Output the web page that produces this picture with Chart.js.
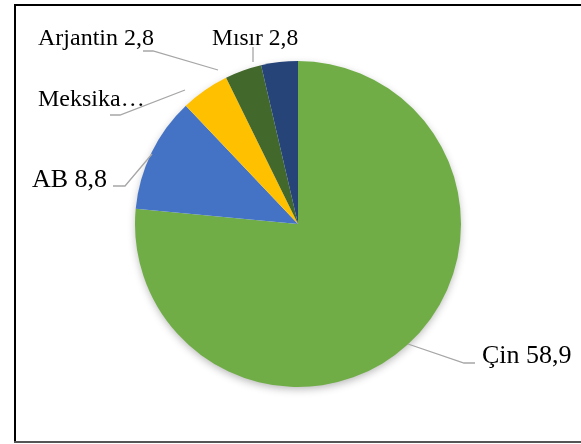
<!DOCTYPE html>
<html><head><meta charset="utf-8">
<script src="https://cdn.jsdelivr.net/npm/chart.js@4/dist/chart.umd.min.js"></script>
<style>html,body{margin:0;padding:0;background:#fff;}#wrap{width:581px;height:444px;position:relative;}</style>
</head><body><div id="wrap"><canvas id="c" width="581" height="444"></canvas></div>
<script>
const categories = ['Çin', 'AB', 'Meksika', 'Arjantin', 'Mısır'];
const values = [58.9, 8.8, 3.7, 2.8, 2.8];
const labelTexts = ['Çin 58,9', 'AB 8,8', 'Meksika…', 'Arjantin 2,8', 'Mısır 2,8'];
const colors = ['#70AD47', '#4472C4', '#FFC000', '#43682B', '#264478'];

// label layout (text baseline-left position, font size and leader line path)
const labelLayout = [
  {x: 482, y: 363, size: 26, line: [[475, 363], [464, 363], [408, 344]]},
  {x: 32, y: 187, size: 26, line: [[113, 186], [125, 186], [152, 154]]},
  {x: 38, y: 106, size: 24, line: [[110, 115], [120, 115], [185, 90]]},
  {x: 38, y: 45, size: 24, line: [[143, 51], [153, 51], [218, 70]]},
  {x: 212, y: 45, size: 23.5, line: [[253, 47], [253, 62]]}
];

const shadowPlugin = {
  id: 'shadow',
  beforeDatasetsDraw(chart) {
    const arc = chart.getDatasetMeta(0).data[0];
    if (!arc) return;
    const ctx = chart.ctx;
    ctx.save();
    ctx.shadowColor = 'rgba(0,0,0,0.3)';
    ctx.shadowBlur = 9;
    ctx.shadowOffsetY = 3;
    ctx.fillStyle = '#ffffff';
    ctx.beginPath();
    ctx.arc(arc.x, arc.y, arc.outerRadius - 1, 0, Math.PI * 2);
    ctx.fill();
    ctx.restore();
  }
};

const labelPlugin = {
  id: 'labels',
  afterDatasetsDraw(chart) {
    const ctx = chart.ctx;
    ctx.save();
    ctx.strokeStyle = '#A6A6A6';
    ctx.lineWidth = 1.3;
    labelLayout.forEach((l, i) => {
      ctx.beginPath();
      l.line.forEach((p, j) => j ? ctx.lineTo(p[0], p[1]) : ctx.moveTo(p[0], p[1]));
      ctx.stroke();
      ctx.fillStyle = '#000';
      ctx.font = l.size + 'px "Liberation Serif", "Times New Roman", serif';
      ctx.textBaseline = 'alphabetic';
      ctx.textAlign = 'left';
      ctx.fillText(labelTexts[i], l.x, l.y);
    });
    // frame
    ctx.strokeStyle = '#000';
    ctx.lineWidth = 2;
    ctx.beginPath();
    ctx.moveTo(15, 441);
    ctx.lineTo(15, 5);
    ctx.lineTo(581, 5);
    ctx.stroke();
    ctx.strokeStyle = '#555';
    ctx.beginPath();
    ctx.moveTo(14, 442);
    ctx.lineTo(581, 442);
    ctx.stroke();
    ctx.restore();
  }
};

new Chart(document.getElementById('c'), {
  type: 'pie',
  data: {
    labels: categories,
    datasets: [{
      data: values,
      backgroundColor: colors,
      borderWidth: 0
    }]
  },
  options: {
    responsive: false,
    animation: false,
    layout: {padding: {top: 61, bottom: 57, left: 135, right: 120}},
    plugins: {legend: {display: false}, tooltip: {enabled: false}}
  },
  plugins: [shadowPlugin, labelPlugin]
});
</script>
</body></html>
